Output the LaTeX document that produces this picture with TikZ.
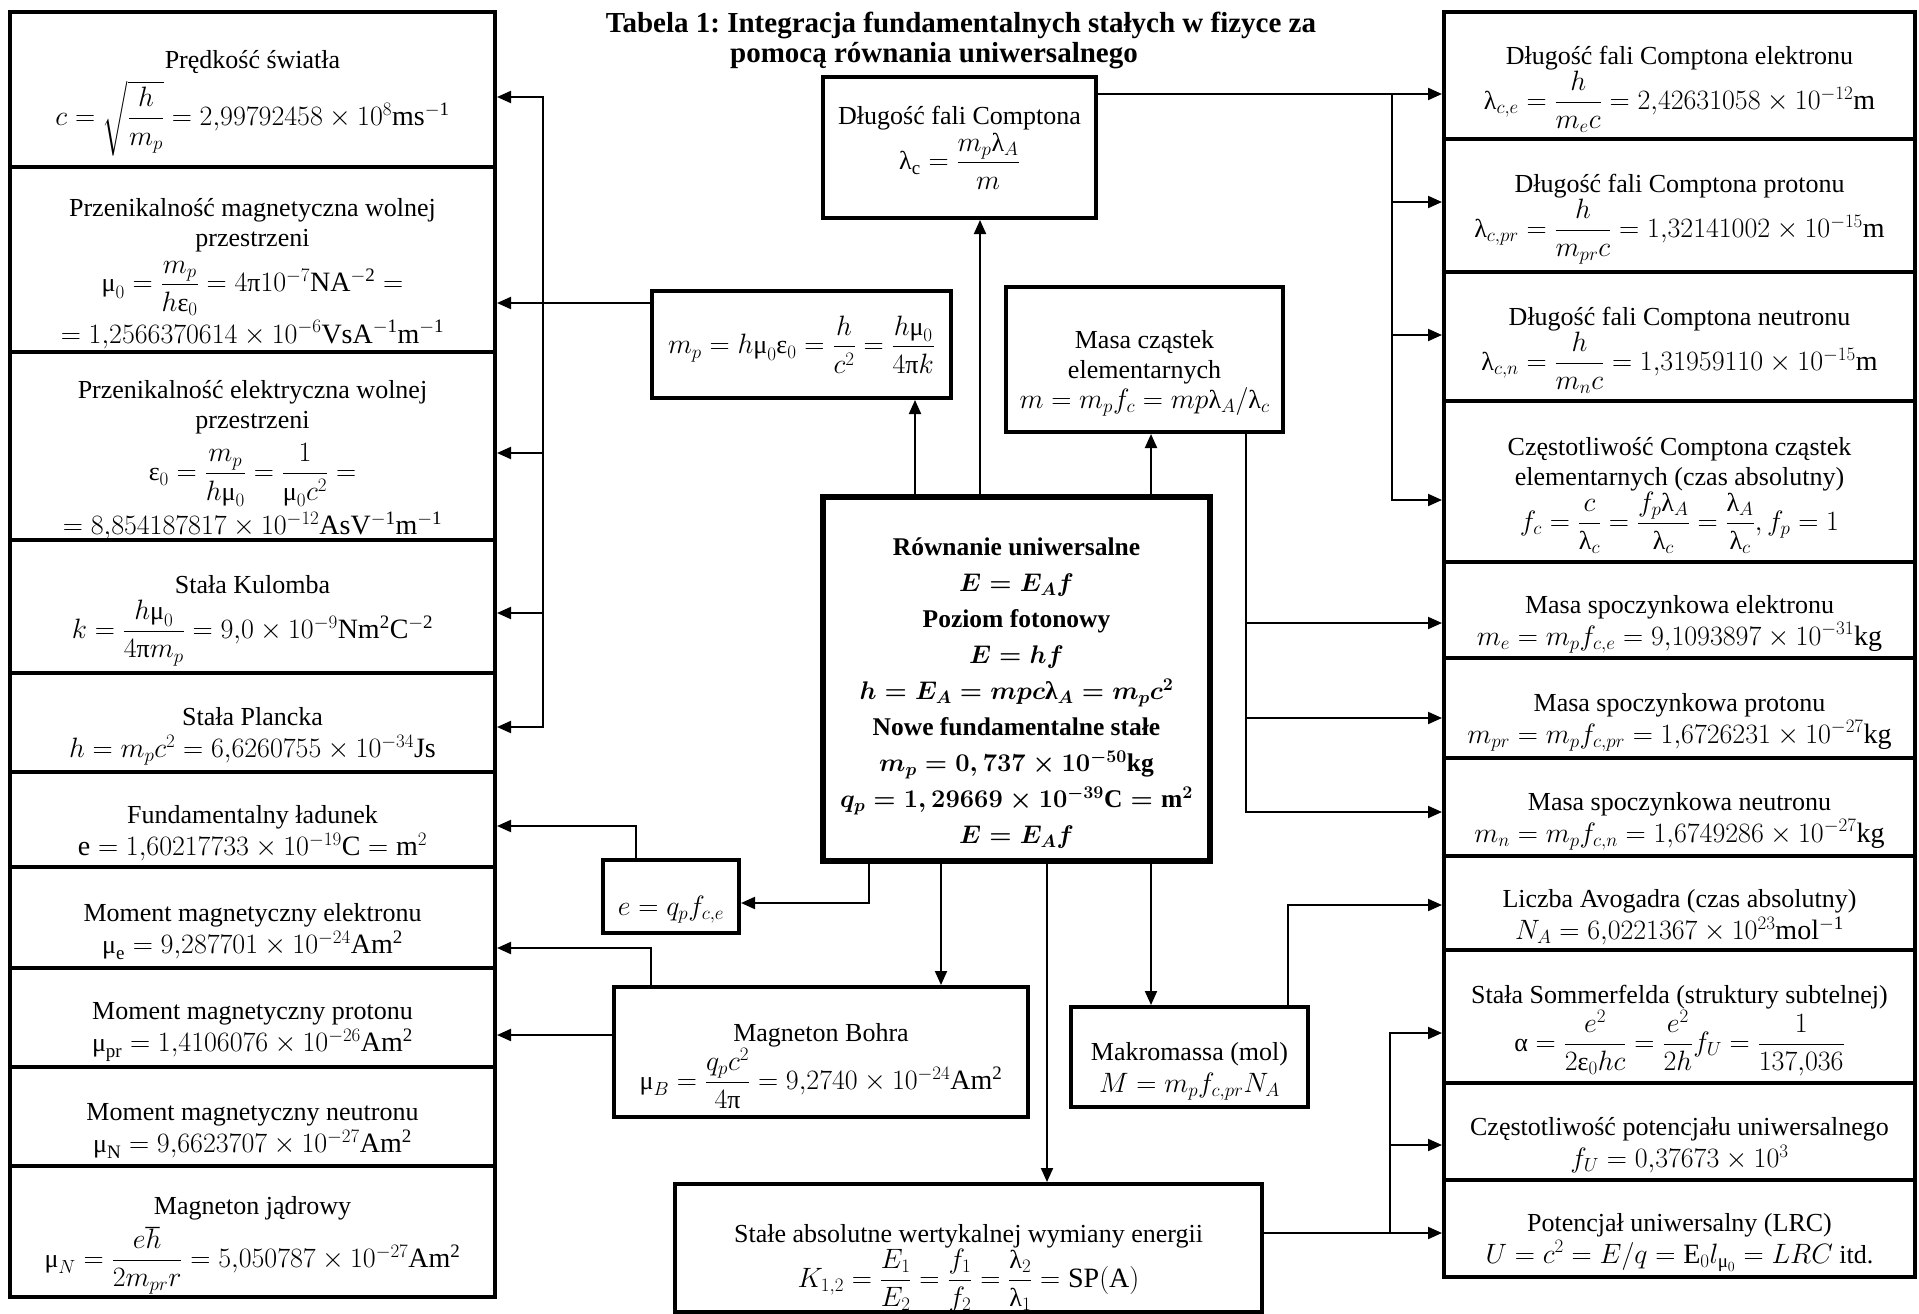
\RequirePackage{fix-cm}
\documentclass[tikz,border=0pt]{standalone}
\usepackage{amsmath}
\usepackage{fontspec}
\setmainfont{Liberation Serif}
\usetikzlibrary{arrows.meta}

\DeclareMathSizes{26}{28}{19}{14}
\newcommand{\umu}{\text{μ}}
\newcommand{\ueps}{\text{ε}}
\newcommand{\ulam}{\text{λ}}
\newcommand{\upi}{\text{π}}
\newcommand{\ualpha}{\text{α}}
\newcommand{\boxpad}{\rule{0pt}{46pt}}

\begin{document}
\begin{tikzpicture}[x=1pt,y=-1pt,->,>={Triangle[length=14pt,width=12pt]},line width=2pt,
            const node/.style={rectangle,draw,line width=4pt,inner sep=0pt,align=center,
              font=\fontsize{26}{30}\selectfont},
            left node/.style={const node,minimum width=485pt},
            right node/.style={const node,minimum width=471pt},
            main node/.style={rectangle,draw,line width=5.5pt,inner sep=0pt,align=center,
              font=\fontsize{25.5}{36}\selectfont\bfseries\boldmath},
            title node/.style={font=\fontsize{29}{28}\selectfont\bfseries\frenchspacing}]
        \useasboundingbox (0,0) rectangle (1919,1314);

        % Title
        \node[title node] (tit1) at (961,25) {Tabela 1: Integracja fundamentalnych stałych w fizyce za};
        \node[title node] (tit2) at (934,56) {pomocą równania uniwersalnego};

        % Define vertices (left column)
        \node[left node,minimum height=155pt] (c) at (252.5,89.5) {\boxpad Prędkość światła\\[6pt] $c = \sqrt{\dfrac{h}{m_p}} = 2{,}99792458\times10^{8}\mathrm{ms^{-1}}$};
        \node[left node,minimum height=185pt] (mu0) at (252.5,259.5) {\boxpad Przenikalność magnetyczna wolnej\\ przestrzeni\\[8pt] $\umu_0 = \dfrac{m_p}{h\ueps_0} = 4\upi10^{-7}\mathrm{NA^{-2}} =$\\[4pt] $= 1{,}2566370614\times10^{-6}\mathrm{VsA^{-1}m^{-1}}$};
        \node[left node,minimum height=188pt] (eps0) at (252.5,446) {\boxpad Przenikalność elektryczna wolnej\\ przestrzeni\\[9pt] $\ueps_0 = \dfrac{m_p}{h\umu_0} = \dfrac{1}{\umu_0c^2} =$\\[4pt] $= 8{,}854187817\times10^{-12}\mathrm{AsV^{-1}m^{-1}}$};
        \node[left node,minimum height=133pt] (k) at (252.5,606.5) {\boxpad Stała Kulomba\\[6pt] $k = \dfrac{h\umu_0}{4\upi m_p} = 9{,}0\times10^{-9}\mathrm{Nm^2C^{-2}}$};
        \node[left node,minimum height=99pt] (h) at (252.5,722.5) {\boxpad Stała Plancka\\[2pt] $h = m_pc^2 = 6{,}6260755\times10^{-34}\mathrm{Js}$};
        \node[left node,minimum height=95pt] (e) at (252.5,819.5) {\boxpad Fundamentalny ładunek\\[2pt] $\mathrm{e} = 1{,}60217733\times10^{-19}\mathrm{C} = \mathrm{m}^2$};
        \node[left node,minimum height=101pt] (mue) at (252.5,917.5) {\boxpad Moment magnetyczny elektronu\\[2pt] $\umu_{\mathrm{e}} = 9{,}287701\times10^{-24}\mathrm{Am^2}$};
        \node[left node,minimum height=99pt] (mupr) at (252.5,1017.5) {\boxpad Moment magnetyczny protonu\\[2pt] $\umu_{\mathrm{pr}} = 1{,}4106076\times10^{-26}\mathrm{Am^2}$};
        \node[left node,minimum height=99pt] (mun) at (252.5,1116.5) {\boxpad Moment magnetyczny neutronu\\[2pt] $\umu_{\mathrm{N}} = 9{,}6623707\times10^{-27}\mathrm{Am^2}$};
        \node[left node,minimum height=131pt] (muj) at (252.5,1231.5) {\boxpad Magneton jądrowy\\[6pt] $\umu_N = \dfrac{e\hbar}{2m_{pr}r} = 5{,}050787\times10^{-27}\mathrm{Am^2}$};

        % Define vertices (middle)
        \node[const node,minimum width=273pt,minimum height=141pt] (comp) at (959.5,147.5) {Długość fali Comptona\\[2pt] $\ulam_{\mathrm{c}} = \dfrac{m_p\ulam_A}{m}$};
        \node[const node,minimum width=299pt,minimum height=107pt] (mp) at (801.5,344.5) {$m_p = h\umu_0\ueps_0 = \dfrac{h}{c^2} = \dfrac{h\umu_0}{4\upi k}$};
        \node[const node,minimum width=277pt,minimum height=145pt] (masa) at (1144.5,359.5) {\boxpad Masa cząstek\\ elementarnych\\ $m = m_pf_c = mp\ulam_A/\ulam_c$};
        \node[main node,minimum width=387pt,minimum height=364pt] (cen) at (1016.5,679) {\boxpad Równanie uniwersalne\\ $E = E_Af$\\ Poziom fotonowy\\ $E = hf$\\ $h = E_A = mpc\ulam_A = m_pc^2$\\ Nowe fundamentalne stałe\\ $m_p = 0,737\times10^{-50}\mathrm{kg}$\\ $q_p = 1,29669\times10^{-39}\mathrm{C} = \mathrm{m}^2$\\ $E = E_Af$};
        \node[const node,minimum width=136pt,minimum height=73pt] (ebox) at (671,896.5) {\boxpad $e = q_pf_{c,e}$};
        \node[const node,minimum width=414pt,minimum height=130pt] (bohr) at (821,1052) {\boxpad Magneton Bohra\\ $\umu_B = \dfrac{q_pc^2}{4\upi} = 9{,}2740\times10^{-24}\mathrm{Am^2}$};
        \node[const node,minimum width=237pt,minimum height=100pt] (makro) at (1189.5,1057) {\boxpad Makromassa (mol)\\[2pt] $M = m_pf_{c,pr}N_A$};
        \node[const node,minimum width=587pt,minimum height=128pt] (stale) at (968.5,1248) {\rule{0pt}{58pt}Stałe absolutne wertykalnej wymiany energii\\ $K_{1,2} = \dfrac{E_1}{E_2} = \dfrac{f_1}{f_2} = \dfrac{\ulam_2}{\ulam_1} = \mathrm{SP(A)}$};

        % Define vertices (right column)
        \node[right node,minimum height=127pt] (lce) at (1679.5,75.5) {\boxpad Długość fali Comptona elektronu\\ $\ulam_{c,e} = \dfrac{h}{m_ec} = 2{,}42631058\times10^{-12}\mathrm{m}$};
        \node[right node,minimum height=133pt] (lcp) at (1679.5,205.5) {\boxpad Długość fali Comptona protonu\\ $\ulam_{c,pr} = \dfrac{h}{m_{pr}c} = 1{,}32141002\times10^{-15}\mathrm{m}$};
        \node[right node,minimum height=129pt] (lcn) at (1679.5,336.5) {\boxpad Długość fali Comptona neutronu\\ $\ulam_{c,n} = \dfrac{h}{m_nc} = 1{,}31959110\times10^{-15}\mathrm{m}$};
        \node[right node,minimum height=161pt] (fc) at (1679.5,481.5) {\boxpad Częstotliwość Comptona cząstek\\ elementarnych (czas absolutny)\\ $f_c = \dfrac{c}{\ulam_c} = \dfrac{f_p\ulam_A}{\ulam_c} = \dfrac{\ulam_A}{\ulam_c}, f_p = 1$};
        \node[right node,minimum height=96pt] (me) at (1679.5,610) {\boxpad Masa spoczynkowa elektronu\\[2pt] $m_e = m_pf_{c,e} = 9{,}1093897\times10^{-31}\mathrm{kg}$};
        \node[right node,minimum height=100pt] (mpr) at (1679.5,708) {\boxpad Masa spoczynkowa protonu\\[2pt] $m_{pr} = m_pf_{c,pr} = 1{,}6726231\times10^{-27}\mathrm{kg}$};
        \node[right node,minimum height=98pt] (mn) at (1679.5,807) {\boxpad Masa spoczynkowa neutronu\\[2pt] $m_n = m_pf_{c,n} = 1{,}6749286\times10^{-27}\mathrm{kg}$};
        \node[right node,minimum height=94pt] (na) at (1679.5,903) {\boxpad Liczba Avogadra (czas absolutny)\\[2pt] $N_A = 6{,}0221367\times10^{23}\mathrm{mol^{-1}}$};
        \node[right node,minimum height=133pt] (alpha) at (1679.5,1016.5) {\boxpad Stała Sommerfelda (struktury subtelnej)\\ $\ualpha = \dfrac{e^2}{2\ueps_0hc} = \dfrac{e^2}{2h}f_U = \dfrac{1}{137{,}036}$};
        \node[right node,minimum height=97pt] (fu) at (1679.5,1131.5) {\boxpad Częstotliwość potencjału uniwersalnego\\[2pt] $f_U = 0{,}37673\times10^3$};
        \node[right node,minimum height=97pt] (u) at (1679.5,1228.5) {\boxpad Potencjał uniwersalny (LRC)\\[2pt] $U = c^2 = E/q = \mathrm{E}_0l_{\umu_0} = LRC$ itd.};

        % Draw edges (left)
        \coordinate (lbus) at (543,303);
        \draw (mp.west |- 0,303) -- (mu0.east |- 0,303);
        \draw (lbus) |- (c.east |- 0,97);
        \draw (lbus) |- (eps0.east |- 0,453);
        \draw (lbus) |- (k.east |- 0,613);
        \draw (lbus) |- (h.east |- 0,727);
        \draw (cen.south -| 869,0) |- (ebox.east |- 0,903);
        \draw (ebox.north -| 636,0) |- (e.east |- 0,826);
        \draw (cen.south -| 941,0) -- (bohr.north -| 941,0);
        \draw (bohr.north -| 651,0) |- (mue.east |- 0,948);
        \draw (bohr.west |- 0,1035) -- (mupr.east |- 0,1035);

        % Draw edges (middle)
        \draw (cen.north -| 915,0) -- (mp.south -| 915,0);
        \draw (cen.north -| 980,0) -- (comp.south -| 980,0);
        \draw (cen.north -| 1151,0) -- (masa.south -| 1151,0);
        \draw (cen.south -| 1047,0) -- (stale.north -| 1047,0);
        \draw (cen.south -| 1151,0) -- (makro.north -| 1151,0);

        % Draw edges (right)
        \coordinate (rbus) at (1392,94);
        \draw (comp.east |- 0,94) -- (lce.west |- 0,94);
        \draw (rbus) |- (lcp.west |- 0,202);
        \draw (rbus) |- (lcn.west |- 0,335);
        \draw (rbus) |- (fc.west |- 0,500);
        \coordinate (mbus) at (masa.south -| 1246,0);
        \draw (mbus) |- (me.west |- 0,623);
        \draw (mbus) |- (mpr.west |- 0,718);
        \draw (mbus) |- (mn.west |- 0,812);
        \draw (makro.north -| 1288,0) |- (na.west |- 0,905);
        \coordinate (sbus) at (1390,1233);
        \draw (stale.east |- 0,1233) -- (u.west |- 0,1233);
        \draw (sbus) |- (alpha.west |- 0,1033);
        \draw (sbus) |- (fu.west |- 0,1145);

\end{tikzpicture}
\end{document}
